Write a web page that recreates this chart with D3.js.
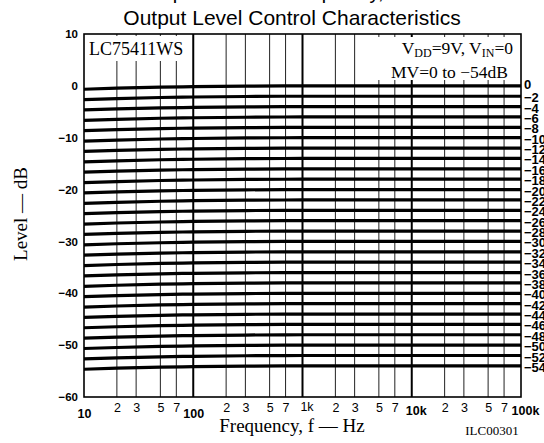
<!DOCTYPE html>
<html>
<head>
<meta charset="utf-8">
<script src="https://cdn.jsdelivr.net/npm/d3@7"></script>
<style>
  html, body { margin: 0; padding: 0; background: #fff; overflow: hidden; }
  svg { display: block; }
</style>
</head>
<body>
<script>
// Frequencies (Hz) at which each level curve is sampled
const freqs = [10, 20, 50, 100, 300, 1000, 100000];

// Master volume settings (dB) and the measured output level per setting
const levels = [0, -2, -4, -6, -8, -10, -12, -14, -16, -18, -20, -22, -24, -26,
                -28, -30, -32, -34, -36, -38, -40, -42, -44, -46, -48, -50, -52, -54];
const curves = [
  [-0.65, -0.45, -0.25, -0.15, -0.05, 0, 0],
  [-2.65, -2.45, -2.25, -2.15, -2.05, -2, -2],
  [-4.65, -4.45, -4.25, -4.15, -4.05, -4, -4],
  [-6.65, -6.45, -6.25, -6.15, -6.05, -6, -6],
  [-8.65, -8.45, -8.25, -8.15, -8.05, -8, -8],
  [-10.65, -10.45, -10.25, -10.15, -10.05, -10, -10],
  [-12.65, -12.45, -12.25, -12.15, -12.05, -12, -12],
  [-14.65, -14.45, -14.25, -14.15, -14.05, -14, -14],
  [-16.65, -16.45, -16.25, -16.15, -16.05, -16, -16],
  [-18.65, -18.45, -18.25, -18.15, -18.05, -18, -18],
  [-20.65, -20.45, -20.25, -20.15, -20.05, -20, -20],
  [-22.65, -22.45, -22.25, -22.15, -22.05, -22, -22],
  [-24.65, -24.45, -24.25, -24.15, -24.05, -24, -24],
  [-26.65, -26.45, -26.25, -26.15, -26.05, -26, -26],
  [-28.65, -28.45, -28.25, -28.15, -28.05, -28, -28],
  [-30.65, -30.45, -30.25, -30.15, -30.05, -30, -30],
  [-32.65, -32.45, -32.25, -32.15, -32.05, -32, -32],
  [-34.65, -34.45, -34.25, -34.15, -34.05, -34, -34],
  [-36.65, -36.45, -36.25, -36.15, -36.05, -36, -36],
  [-38.65, -38.45, -38.25, -38.15, -38.05, -38, -38],
  [-40.65, -40.45, -40.25, -40.15, -40.05, -40, -40],
  [-42.65, -42.45, -42.25, -42.15, -42.05, -42, -42],
  [-44.65, -44.45, -44.25, -44.15, -44.05, -44, -44],
  [-46.65, -46.45, -46.25, -46.15, -46.05, -46, -46],
  [-48.65, -48.45, -48.25, -48.15, -48.05, -48, -48],
  [-50.65, -50.45, -50.25, -50.15, -50.05, -50, -50],
  [-52.65, -52.45, -52.25, -52.15, -52.05, -52, -52],
  [-54.65, -54.45, -54.25, -54.15, -54.05, -54, -54]
];

// Axis ticks
const yTicks = [10, 0, -10, -20, -30, -40, -50, -60];
const yTickLabels = ["10", "0", "\u221210", "\u221220", "\u221230", "\u221240", "\u221250", "\u221260"];
const decadeTicks = [10, 100, 1000, 10000, 100000];
const decadeLabels = ["10", "100", "1k", "10k", "100k"];
const minorMultipliers = [2, 3, 5, 7];

const W = 544, H = 443;
const plot = { left: 84, right: 521, top: 34, bottom: 397 };

const svg = d3.select("body").append("svg")
  .attr("width", W).attr("height", H);

const x = d3.scaleLog().domain([10, 100000]).range([plot.left, plot.right]);
const y = d3.scaleLinear().domain([-60, 10]).range([plot.bottom, plot.top]);

const sans = "'Liberation Sans', Arial, Helvetica, sans-serif";
const serif = "'Liberation Serif', 'Times New Roman', serif";

// Title (the upper line runs off the top edge)
svg.append("text")
  .attr("x", 262).attr("y", -1.5)
  .attr("text-anchor", "middle")
  .attr("font-family", sans).attr("font-size", 20)
  .text("Output Level \u2014 Frequency,");
svg.append("text")
  .attr("x", 292).attr("y", 25)
  .attr("text-anchor", "middle")
  .attr("font-family", sans).attr("font-size", 21)
  .text("Output Level Control Characteristics");

// Vertical grid: minor lines at 2,3,5,7 × decade, heavier lines at inner decades
const minorVals = [];
decadeTicks.slice(0, -1).forEach(d => minorMultipliers.forEach(m => minorVals.push(d * m)));
const grid = svg.append("g");
grid.selectAll("line.minor").data(minorVals).join("line")
  .attr("class", "minor")
  .attr("x1", d => x(d)).attr("x2", d => x(d))
  .attr("y1", plot.top).attr("y2", plot.bottom)
  .attr("stroke", "#222").attr("stroke-width", 1);
grid.selectAll("line.major").data(decadeTicks.slice(1, -1)).join("line")
  .attr("class", "major")
  .attr("x1", d => x(d)).attr("x2", d => x(d))
  .attr("y1", plot.top).attr("y2", plot.bottom)
  .attr("stroke", "#000").attr("stroke-width", 2);

// Level curves
const line = d3.line()
  .x((d, i) => x(freqs[i]))
  .y(d => y(d))
  .curve(d3.curveMonotoneX);
svg.append("g").selectAll("path").data(curves).join("path")
  .attr("d", line)
  .attr("fill", "none")
  .attr("stroke", "#000")
  .attr("stroke-width", 3.2);

// Annotation boxes
svg.append("rect")
  .attr("x", 86).attr("y", 36).attr("width", 99).attr("height", 25)
  .attr("fill", "#fff");
svg.append("text")
  .attr("x", 89).attr("y", 55)
  .attr("font-family", serif).attr("font-size", 18)
  .text("LC75411WS");

svg.append("rect")
  .attr("x", 358).attr("y", 37).attr("width", 161).attr("height", 43)
  .attr("fill", "#fff");
const cond = svg.append("text")
  .attr("x", 513).attr("y", 54)
  .attr("text-anchor", "end")
  .attr("font-family", serif).attr("font-size", 17.5);
cond.append("tspan").text("V");
cond.append("tspan").attr("font-size", 12).attr("dy", 3).text("DD");
cond.append("tspan").attr("dy", -3).text("=9V, V");
cond.append("tspan").attr("font-size", 12).attr("dy", 3).text("IN");
cond.append("tspan").attr("dy", -3).text("=0");
svg.append("text")
  .attr("x", 508).attr("y", 78)
  .attr("text-anchor", "end")
  .attr("font-family", serif).attr("font-size", 17.5)
  .text("MV=0 to \u221254dB");

// Plot frame
svg.append("rect")
  .attr("x", plot.left).attr("y", plot.top)
  .attr("width", plot.right - plot.left).attr("height", plot.bottom - plot.top)
  .attr("fill", "none").attr("stroke", "#000").attr("stroke-width", 1.6);

// Y axis labels
const yAxis = d3.axisLeft(y)
  .tickValues(yTicks)
  .tickSize(0)
  .tickPadding(6)
  .tickFormat((d, i) => yTickLabels[i]);
const gy = svg.append("g")
  .attr("transform", `translate(${plot.left},0)`)
  .call(yAxis);
gy.select(".domain").remove();
gy.selectAll("text")
  .attr("font-family", sans).attr("font-size", 11.5).attr("font-weight", "bold")
  .attr("fill", "#000");

// X axis labels: decades lower, in-between multipliers higher
const xAxis = d3.axisBottom(x)
  .tickValues(decadeTicks)
  .tickSize(0)
  .tickPadding(0)
  .tickFormat((d, i) => decadeLabels[i]);
const gx = svg.append("g")
  .attr("transform", `translate(0,${plot.bottom})`)
  .call(xAxis);
gx.select(".domain").remove();
gx.selectAll("text")
  .attr("font-family", sans).attr("font-size", 12.5)
  .attr("fill", "#000")
  .attr("dy", null)
  .attr("y", (d) => d === 1000 ? 14 : (d >= 10000 ? 18 : 21))
  .attr("dx", (d) => d >= 1000 ? 4 : 0)
  .attr("font-weight", (d) => d === 1000 ? "normal" : "bold");

const xMinorAxis = d3.axisBottom(x)
  .tickValues(minorVals)
  .tickSize(0)
  .tickPadding(0)
  .tickFormat(d => String(Math.round(d / Math.pow(10, Math.floor(Math.log10(d) + 1e-9)))));
const gxm = svg.append("g")
  .attr("transform", `translate(0,${plot.bottom})`)
  .call(xMinorAxis);
gxm.select(".domain").remove();
gxm.selectAll("text")
  .attr("font-family", sans).attr("font-size", 12.5)
  .attr("fill", "#000")
  .attr("dy", null)
  .attr("y", 15);

// Right-hand labels naming each curve's setting
svg.append("g").selectAll("text").data(levels).join("text")
  .attr("x", plot.right + 3)
  .attr("y", d => y(d) + (d === 0 ? 3 : 6))
  .attr("font-family", sans).attr("font-size", 13).attr("font-weight", "bold")
  .text(d => d === 0 ? "0" : "\u2212" + Math.abs(d));

// Axis titles
svg.append("text")
  .attr("x", 292).attr("y", 432)
  .attr("text-anchor", "middle")
  .attr("font-family", serif).attr("font-size", 19)
  .text("Frequency, f \u2014 Hz");
svg.append("text")
  .attr("transform", `translate(27,214) rotate(-90)`)
  .attr("text-anchor", "middle")
  .attr("font-family", serif).attr("font-size", 19)
  .text("Level \u2014 dB");
svg.append("text")
  .attr("x", 492).attr("y", 435)
  .attr("text-anchor", "middle")
  .attr("font-family", serif).attr("font-size", 13)
  .text("ILC00301");
</script>
</body>
</html>
